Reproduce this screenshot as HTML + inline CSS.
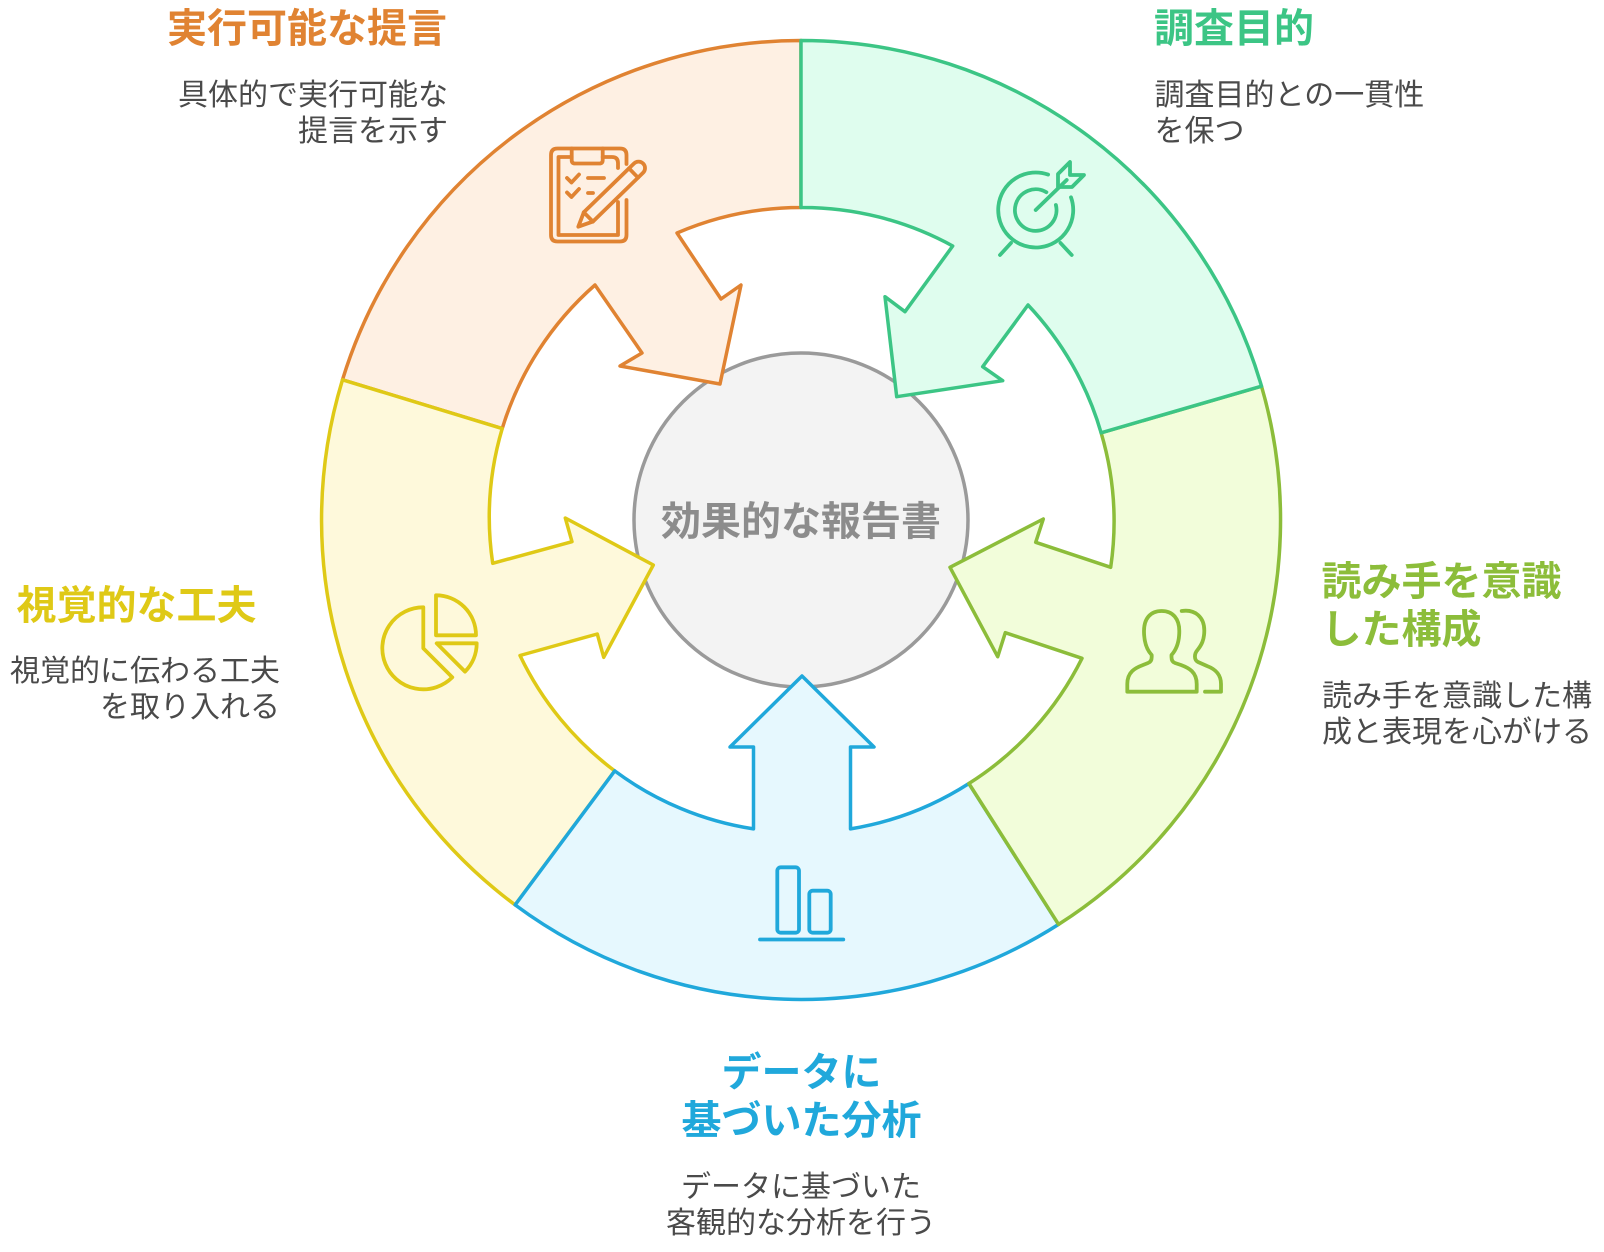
<!DOCTYPE html>
<html>
<head>
<meta charset="utf-8">
<style>
  html, body { margin: 0; padding: 0; background: #ffffff; }
  body { width: 1604px; height: 1252px; overflow: hidden; }
  svg { display: block; }
  .t { font-family: "Liberation Sans", "Noto Sans CJK JP", sans-serif; }
  .title { font-size: 40px; font-weight: 700; }
  .body { font-size: 30px; font-weight: 400; fill: #4a4a4a; }
</style>
</head>
<body>
<svg width="1604" height="1252" viewBox="0 0 1604 1252" xmlns="http://www.w3.org/2000/svg">
  <!-- center circle -->
  <circle cx="801" cy="520" r="167" fill="#f3f3f3" stroke="#9a9a9a" stroke-width="3.5"/>

  <g stroke-width="3.5" stroke-linejoin="round">
    <!-- orange -->
    <path d="M342.5,379.8 A479.5,479.5 0 0 1 801,40.5 L801,207.5 A312.5,312.5 0 0 0 677,233 L721,299 L741,285 L720,384 L620,366 L642,353 L595,285 A312.5,312.5 0 0 0 502.2,428.6 Z" fill="#fef0e3" stroke="#e08332"/>
    <!-- yellow -->
    <path d="M515.1,904.9 A479.5,479.5 0 0 1 342.5,379.8 L502.2,428.6 A312.5,312.5 0 0 0 492.7,563.3 L572,541.7 L565.3,518 L653.3,565 L603.7,657.3 L597.3,634 L520,655.5 A312.5,312.5 0 0 0 614.7,770.9 Z" fill="#fef9db" stroke="#dfc916"/>
    <!-- blue -->
    <path d="M1058.6,924.4 A479.5,479.5 0 0 1 515.1,904.9 L614.7,770.9 A312.5,312.5 0 0 0 753.5,828.9 L753.5,747 L730,747 L802,676 L874,747 L850.5,747 L850.5,828.9 A312.5,312.5 0 0 0 968.9,783.5 Z" fill="#e6f8fe" stroke="#20a8db"/>
    <!-- lime -->
    <path d="M1261.5,386.2 A479.5,479.5 0 0 1 1058.6,924.4 L968.9,783.5 A312.5,312.5 0 0 0 1082,658.3 L1005.3,632.7 L997.7,656.7 L950,567.3 L1043.3,519 L1035.7,542.3 L1110.7,567.3 A312.5,312.5 0 0 0 1101.1,432.8 Z" fill="#f2fdda" stroke="#8cbd3a"/>
    <!-- green -->
    <path d="M801,40.5 A479.5,479.5 0 0 1 1261.5,386.2 L1101.1,432.8 A312.5,312.5 0 0 0 1028,305 L982.7,366.7 L1002.7,380.7 L896.7,396.7 L885,296.7 L905,311.7 L952.7,246 A312.5,312.5 0 0 0 801,207.5 Z" fill="#dffdee" stroke="#3cc585"/>
  </g>

  <!-- ICONS -->
  <!-- clipboard (orange) -->
  <g fill="none" stroke="#e08332" stroke-width="3.8" stroke-linecap="round" stroke-linejoin="round">
    <path d="M626.5,200 L626.5,235 Q626.5,241.5 620,241.5 L557.5,241.5 Q551,241.5 551,235 L551,155 Q551,148.5 557.5,148.5 L620,148.5 Q626.5,148.5 626.5,155 L626.5,164"/>
    <path d="M618,202 L618,235 L558.5,235 L558.5,157 L571.7,157"/>
    <path d="M602.7,157 L612,157 Q618,157 618,163 L618,168"/>
    <path d="M571.7,148.5 L571.7,160 Q571.7,163.5 575,163.5 L599.5,163.5 Q602.7,163.5 602.7,160 L602.7,148.5"/>
    <polyline points="567,178 571.5,182.5 579,174.5"/>
    <polyline points="567,192.5 571.5,197 579,189"/>
    <line x1="588" y1="178" x2="604" y2="178"/>
    <line x1="588" y1="193" x2="593" y2="193"/>
    <g transform="translate(578.3,226.7) rotate(-44.2)">
      <path d="M0,0 L14,-6.5 L84,-6.5 A6.5,6.5 0 0 1 84,6.5 L14,6.5 Z"/>
      <line x1="14" y1="-6.5" x2="14" y2="6.5"/>
      <line x1="77" y1="-6.5" x2="77" y2="6.5"/>
    </g>
  </g>

  <!-- target (green) -->
  <g fill="none" stroke="#3cc585" stroke-width="3.8" stroke-linecap="round" stroke-linejoin="round">
    <path d="M1048.1,174.6 A37.5,37.5 0 1 0 1071,197.3"/>
    <path d="M1046.4,192.2 A20.8,20.8 0 1 0 1055.9,205"/>
    <line x1="1035.7" y1="210" x2="1066.7" y2="180"/>
    <path d="M1058,187 L1058,174 L1070,162 L1070,175 L1084,175 L1072,187 Z"/>
    <line x1="1000" y1="255" x2="1011" y2="243"/>
    <line x1="1071.7" y1="255" x2="1060.5" y2="243"/>
  </g>

  <!-- users (lime) -->
  <g fill="none" stroke="#8cbd3a" stroke-width="3.8" stroke-linecap="round" stroke-linejoin="round">
    <path d="M1127.3,691.7 L1127.3,684 C1127.3,672 1135,668 1143,665 L1148,663 C1151,662 1151.7,659 1151.7,657 L1151.7,655 C1146,649 1144,641 1144,631 C1144,619 1150,611 1161.7,611 C1173,611 1179.3,619 1179.3,631 C1179.3,641 1177,649 1171.5,655 L1171.5,657 C1171.5,659 1172,662 1175,663 L1181,665 C1189,668 1196.7,672 1196.7,684 L1196.7,691.7 Z"/>
    <path d="M1181.7,611 C1195,609 1204.5,617 1204.3,631 C1204.2,640 1201.5,645 1197.5,650 C1194,654 1194,660 1198,662 L1207,666 C1215,669 1221,674 1221,684 L1221,691.7 L1205,691.7"/>
  </g>

  <!-- pie (yellow) -->
  <g fill="none" stroke="#dfc916" stroke-width="3.8" stroke-linecap="round" stroke-linejoin="round">
    <path d="M423.3,648.3 L423.3,607.3 A41,41 0 1 0 452.3,677.3 Z"/>
    <path d="M436,635.3 L436,595.3 A40,40 0 0 1 476,635.3 Z"/>
    <path d="M436.7,643.3 L476.7,643.3 A40,40 0 0 1 465,671.6 Z"/>
  </g>

  <!-- bar chart (blue) -->
  <g fill="none" stroke="#20a8db" stroke-width="3.8" stroke-linecap="round" stroke-linejoin="round">
    <rect x="777.3" y="867.3" width="21.7" height="65.4" rx="3.5"/>
    <rect x="809.3" y="890.7" width="21.4" height="42" rx="3.5"/>
    <line x1="760" y1="939.5" x2="843.3" y2="939.5"/>
  </g>

  <!-- CENTER TEXT -->
  <text class="t title" x="801" y="535" text-anchor="middle" fill="#8c8c8c">効果的な報告書</text>

  <!-- ORANGE TEXT -->
  <text class="t title" x="447" y="42" text-anchor="end" fill="#e08332">実行可能な提言</text>
  <text class="t body" x="448" y="105" text-anchor="end">具体的で実行可能な</text>
  <text class="t body" x="448" y="141" text-anchor="end">提言を示す</text>

  <!-- GREEN TEXT -->
  <text class="t title" x="1154" y="42" fill="#3cc585">調査目的</text>
  <text class="t body" x="1154.5" y="105">調査目的との一貫性</text>
  <text class="t body" x="1154.5" y="141">を保つ</text>

  <!-- LIME TEXT -->
  <text class="t title" x="1321.5" y="595" fill="#8cbd3a">読み手を意識</text>
  <text class="t title" x="1321.5" y="643" fill="#8cbd3a">した構成</text>
  <text class="t body" x="1322" y="706">読み手を意識した構</text>
  <text class="t body" x="1322" y="742">成と表現を心がける</text>

  <!-- YELLOW TEXT -->
  <text class="t title" x="16.5" y="619" fill="#dfc916">視覚的な工夫</text>
  <text class="t body" x="280" y="681" text-anchor="end">視覚的に伝わる工夫</text>
  <text class="t body" x="280" y="717" text-anchor="end">を取り入れる</text>

  <!-- BLUE TEXT -->
  <text class="t title" x="801.5" y="1086" text-anchor="middle" fill="#20a8db">データに</text>
  <text class="t title" x="801.5" y="1134" text-anchor="middle" fill="#20a8db">基づいた分析</text>
  <text class="t body" x="801" y="1197" text-anchor="middle">データに基づいた</text>
  <text class="t body" x="801" y="1233" text-anchor="middle">客観的な分析を行う</text>
</svg>
</body>
</html>
